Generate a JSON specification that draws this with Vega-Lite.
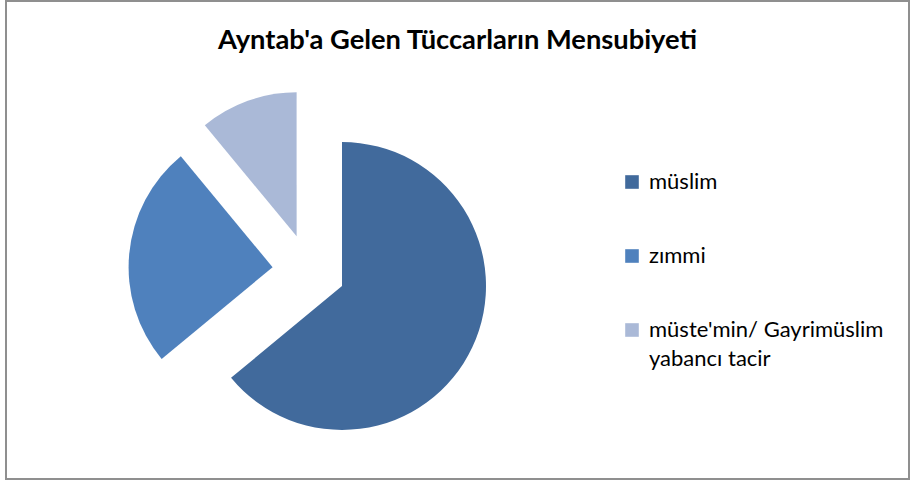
{
  "$schema": "https://vega.github.io/schema/vega-lite/v6.json",
  "width": 903,
  "height": 478,
  "autosize": {"type": "none"},
  "padding": {"left": 6, "top": 1, "right": 1, "bottom": 3},
  "background": "white",
  "view": {"stroke": "#8f8f8f", "strokeWidth": 2, "fill": "white"},
  "config": {
    "view": {"stroke": "#8f8f8f", "strokeWidth": 2},
    "font": "Lato",
    "style": {"guide-label": {"lineHeight": 29}}
  },
  "title": {
    "text": "Ayntab'a Gelen Tüccarların Mensubiyeti",
    "font": "Lato",
    "fontSize": 27.3,
    "fontWeight": "bold",
    "color": "#000000",
    "anchor": "middle",
    "offset": -75,
    "baseline": "alphabetic"
  },
  "data": {
    "values": [
      {"kategori": "müslim", "deger": 64},
      {"kategori": "zımmi", "deger": 25},
      {"kategori": "müste'min/ Gayrimüslim yabancı tacir", "deger": 11}
    ]
  },
  "encoding": {
    "theta": {"field": "deger", "type": "quantitative", "stack": true},
    "order": {"field": "deger", "type": "quantitative", "sort": "descending"},
    "color": {
      "field": "kategori",
      "type": "nominal",
      "sort": ["müslim", "zımmi", "müste'min/ Gayrimüslim yabancı tacir"],
      "scale": {
        "domain": ["müslim", "zımmi", "müste'min/ Gayrimüslim yabancı tacir"],
        "range": ["#416a9c", "#4f81bd", "#aab9d7"]
      },
      "legend": {
        "title": null,
        "orient": "none",
        "legendX": 615,
        "legendY": 170,
        "symbolType": "square",
        "symbolSize": 185,
        "symbolStrokeWidth": 0,
        "labelFont": "Lato",
        "labelFontSize": 22,
        "labelColor": "#000000",
        "labelOffset": 6,
        "labelLimit": 300,
        "rowPadding": 52,
        "labelExpr": "datum.label === \"müste'min/ Gayrimüslim yabancı tacir\" ? [\"müste'min/ Gayrimüslim\", 'yabancı tacir'] : datum.label"
      }
    }
  },
  "layer": [
    {
      "mark": {"type": "arc", "radius": 144, "x": 336, "y": 285},
      "encoding": {
        "opacity": {"condition": {"test": "datum.kategori === 'müslim'", "value": 1}, "value": 0}
      }
    },
    {
      "mark": {"type": "arc", "radius": 144, "x": 266.6, "y": 266.2},
      "encoding": {
        "opacity": {"condition": {"test": "datum.kategori === 'zımmi'", "value": 1}, "value": 0}
      }
    },
    {
      "mark": {"type": "arc", "radius": 144, "x": 290.6, "y": 235.3},
      "encoding": {
        "opacity": {"condition": {"test": "indexof(datum.kategori, 'tacir') >= 0", "value": 1}, "value": 0}
      }
    }
  ]
}
